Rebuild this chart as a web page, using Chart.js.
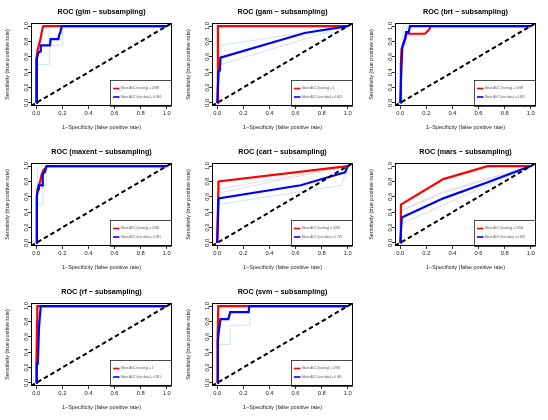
<!DOCTYPE html>
<html>
<head>
<meta charset="utf-8">
<script src="https://cdn.jsdelivr.net/npm/chart.js@4.4.1/dist/chart.umd.min.js"></script>
<style>
  html, body { margin: 0; padding: 0; background: #fff; }
  #grid { position: relative; width: 548px; height: 420px; }
  .cell { position: absolute; width: 183px; height: 140px; }
</style>
</head>
<body>
<div id="grid"></div>
<script>
// Modelos e AUC médios (legenda)
const modelos = ['glm', 'gam', 'brt', 'maxent', 'cart', 'mars', 'rf', 'svm'];
const aucTreino = ['0.988', '1', '0.968', '0.986', '0.887', '0.846', '1', '0.996'];
const aucTeste = ['0.934', '0.803', '0.981', '0.981', '0.719', '0.658', '0.981', '0.965'];
const ticksEixo = [0, 0.2, 0.4, 0.6, 0.8, 1.0];
const limiteMin = -0.04, limiteMax = 1.04;
const diagonal = [[limiteMin, limiteMin], [limiteMax, limiteMax]];

// Curvas ROC médias [FPR, TPR]
const glmTreino = [[0,0],[0,0.55],[0.01,0.68],[0.02,0.75],[0.035,0.85],[0.045,0.95],[0.055,1],[1,1]];
const glmTeste = [[0,0],[0.005,0.58],[0.015,0.65],[0.03,0.67],[0.035,0.75],[0.105,0.75],[0.11,0.83],[0.17,0.83],[0.175,0.88],[0.185,0.92],[0.195,1],[1,1]];
const glmRodadas = [[[0,0],[0,0.5],[0.1,0.5],[0.1,0.75],[0.2,0.75],[0.2,1],[1,1]], [[0,0],[0,0.75],[0.1,0.75],[0.1,1],[1,1]]];

const gamTreino = [[0,0],[0.005,1],[1,1]];
const gamTeste = [[0,0],[0.01,0.41],[0.02,0.42],[0.025,0.59],[0.67,0.91],[1,1]];
const gamRodadas = [[[0,0],[0.025,0.75],[1,1]], [[0,0],[0.025,0.5],[1,1]]];

const brtTreino = [[0,0],[0.005,0.5],[0.01,0.7],[0.025,0.77],[0.035,0.82],[0.045,0.9],[0.19,0.9],[0.2,0.92],[0.22,0.95],[0.235,1],[1,1]];
const brtTeste = [[0,0],[0.01,0.5],[0.015,0.72],[0.03,0.8],[0.04,0.85],[0.045,0.92],[0.065,0.92],[0.075,1],[1,1]];
const brtRodadas = [[[0,0],[0,0.5],[0.02,0.5],[0.02,0.75],[0.05,0.75],[0.05,1],[1,1]], [[0,0],[0.02,0.75],[0.02,1],[1,1]]];

const maxentTreino = [[0,0],[0.005,0.6],[0.01,0.7],[0.02,0.75],[0.03,0.8],[0.04,0.88],[0.055,0.95],[0.07,0.97],[0.08,1],[1,1]];
const maxentTeste = [[0,0],[0.005,0.62],[0.015,0.7],[0.02,0.75],[0.045,0.75],[0.05,0.9],[0.065,0.92],[0.08,1],[1,1]];
const maxentRodadas = [[[0,0],[0,0.5],[0.05,0.5],[0.05,0.75],[0.08,0.75],[0.08,1],[1,1]], [[0,0],[0.01,0.75],[0.01,1],[1,1]]];

const cartTreino = [[0,0],[0.01,0.8],[1,1]];
const cartTeste = [[0,0],[0.01,0.58],[0.64,0.75],[0.94,0.9],[0.98,0.92],[1,1]];
const cartRodadasTreino = [[[0,0],[0.01,0.7],[1,1]]];
const cartRodadas = [[[0,0],[0.01,0.5],[0.95,0.75],[1,1]], [[0,0],[0.01,0.65],[1,1]]];

const marsTreino = [[0,0],[0.005,0.5],[0.33,0.83],[0.67,1],[1,1]];
const marsTeste = [[0,0],[0.012,0.33],[0.33,0.58],[0.67,0.79],[1,1]];
const marsRodadasTreino = [[[0,0],[0.005,0.42],[0.33,0.67],[1,1]]];
const marsRodadas = [[[0,0],[0.01,0.25],[1,1]], [[0,0],[0.01,0.42],[0.33,0.65],[1,1]]];

const rfTreino = [[0,0],[0.002,0.3],[0.006,0.8],[0.008,1],[1,1]];
const rfTeste = [[0,0],[0.004,0.25],[0.012,0.25],[0.018,0.55],[0.022,0.75],[0.027,0.75],[0.035,1],[1,1]];
const rfRodadas = [[[0,0],[0.01,0.25],[0.01,0.75],[0.03,0.75],[0.03,1],[1,1]]];

const svmTreino = [[0,0],[0.003,0.6],[0.008,1],[1,1]];
const svmTeste = [[0,0],[0.005,0.55],[0.012,0.67],[0.025,0.83],[0.085,0.83],[0.1,0.92],[0.24,0.92],[0.245,1],[1,1]];
const svmRodadas = [[[0,0],[0,0.5],[0.1,0.5],[0.1,0.75],[0.25,0.75],[0.25,1],[1,1]]];

const curvas = {
    glm: [glmTreino, glmTeste, [], glmRodadas],
    gam: [gamTreino, gamTeste, [], gamRodadas],
    brt: [brtTreino, brtTeste, [], brtRodadas],
    maxent: [maxentTreino, maxentTeste, [], maxentRodadas],
    cart: [cartTreino, cartTeste, cartRodadasTreino, cartRodadas],
    mars: [marsTreino, marsTeste, marsRodadasTreino, marsRodadas],
    rf: [rfTreino, rfTeste, [], rfRodadas],
    svm: [svmTreino, svmTeste, [], svmRodadas]
};

const FONTE = '"Liberation Sans", Arial, sans-serif';

function linha(pts, cor, largura, traco) {
    return {
        data: pts.map(p => ({ x: p[0], y: p[1] })),
        borderColor: cor,
        borderWidth: largura,
        borderDash: traco || [],
        showLine: true,
        pointRadius: 0,
        tension: 0,
        fill: false
    };
}

// Moldura, título e legenda no estilo R
const molduraR = {
    id: 'molduraR',
    afterDraw(chart, args, opts) {
        const { ctx, chartArea: a } = chart;
        ctx.save();
        ctx.strokeStyle = '#000';
        ctx.lineWidth = 1;
        ctx.strokeRect(Math.round(a.left) + 0.5, Math.round(a.top) + 0.5, Math.round(a.width) - 1, Math.round(a.height) - 1);

        ctx.fillStyle = '#000';
        ctx.font = 'bold 7.2px ' + FONTE;
        ctx.textAlign = 'center';
        ctx.textBaseline = 'middle';
        ctx.fillText(opts.titulo, (a.left + a.right) / 2, 12.5);

        // legenda
        const lw = 62, lh = 26;
        const lx = Math.round(a.right) - lw, ly = Math.round(a.bottom) - lh;
        ctx.strokeStyle = '#222';
        ctx.lineWidth = 0.8;
        ctx.strokeRect(lx + 0.5, ly + 0.5, lw - 1, lh);
        const itens = [['#ff0000', 'Mean AUC (training) = ' + opts.treino], ['#0000ff', 'Mean AUC (test data) = ' + opts.teste]];
        itens.forEach((it, i) => {
            const yy = ly + 8.5 + i * 8.5;
            ctx.strokeStyle = it[0];
            ctx.lineWidth = 1.6;
            ctx.beginPath();
            ctx.moveTo(lx + 3, yy);
            ctx.lineTo(lx + 9.5, yy);
            ctx.stroke();
            ctx.fillStyle = '#555';
            ctx.font = '3px ' + FONTE;
            ctx.textAlign = 'left';
            ctx.fillText(it[1], lx + 11, yy);
        });
        ctx.restore();
    }
};

function eixo(titulo, vertical) {
    return {
        type: 'linear',
        min: limiteMin,
        max: limiteMax,
        afterBuildTicks: s => { s.ticks = ticksEixo.map(v => ({ value: v })); },
        afterFit: s => {
            if (vertical) s.width = 31; else s.height = 34;
        },
        ticks: {
            font: { size: 5.8, family: FONTE },
            color: '#222',
            padding: vertical ? -2 : 1,
            autoSkip: false,
            minRotation: vertical ? 90 : 0,
            maxRotation: vertical ? 90 : 0,
            crossAlign: vertical ? 'center' : 'near',
            callback: v => v.toFixed(1)
        },
        grid: { display: true, drawOnChartArea: false, drawTicks: true, tickLength: 3, color: '#333' },
        border: { display: false },
        title: {
            display: true,
            text: titulo,
            font: { size: 5.5, family: FONTE },
            color: '#222',
            padding: vertical ? { top: 4, bottom: 0 } : { top: 0, bottom: 9 }
        }
    };
}

function criarGrafico(modelo, idx) {
    const grid = document.getElementById('grid');
    const div = document.createElement('div');
    div.className = 'cell';
    const col = idx % 3, row = Math.floor(idx / 3);
    div.style.left = [0, 181, 364][col] + 'px';
    div.style.top = (row * 140) + 'px';
    const canvas = document.createElement('canvas');
    canvas.width = 183;
    canvas.height = 140;
    div.appendChild(canvas);
    grid.appendChild(div);

    const [treino, teste, rodadasTreino, rodadas] = curvas[modelo];
    const datasets = [
        linha(diagonal, '#000', 2, [4.5, 3]),
        linha(teste, '#0000ff', 2.2),
        linha(treino, '#ff0000', 2.2)
    ];
    rodadasTreino.forEach(r => datasets.push(linha(r, '#f6c9c9', 0.7)));
    rodadas.forEach(r => datasets.push(linha(r, '#b5dbe6', 0.7)));

    new Chart(canvas.getContext('2d'), {
        type: 'scatter',
        data: { datasets },
        options: {
            responsive: false,
            animation: false,
            events: [],
            layout: { padding: { top: 23, right: 11, left: 0, bottom: 0 } },
            scales: {
                x: eixo('1\u2212Specificity (false positive rate)', false),
                y: eixo('Sensitivity (true positive rate)', true)
            },
            plugins: {
                legend: { display: false },
                tooltip: { enabled: false },
                molduraR: {
                    titulo: 'ROC (' + modelo + ' \u2212 subsampling)',
                    treino: aucTreino[idx],
                    teste: aucTeste[idx]
                }
            }
        },
        plugins: [molduraR]
    });
}

document.addEventListener('DOMContentLoaded', () => modelos.forEach(criarGrafico));
</script>
</body>
</html>
